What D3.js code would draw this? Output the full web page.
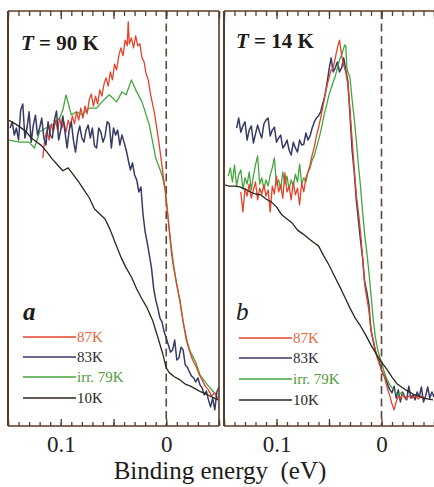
<!DOCTYPE html>
<html><head><meta charset="utf-8">
<script src="https://cdn.jsdelivr.net/npm/d3@7"></script>
<style>body{margin:0;background:#fff}svg{display:block}</style>
</head><body>
<svg id="c" width="434" height="487"></svg>
<script>
// ---------- DATA (binding energy in eV, intensity in arb. units) ----------
const energyDomain = [0.15, -0.05];
const intensityDomain = [0, 100];
const minorTicks = [0.15,0.14,0.13,0.12,0.11,0.10,0.09,0.08,0.07,0.06,0.05,0.04,0.03,0.02,0.01,0,-0.01,-0.02,-0.03,-0.04,-0.05];
const majorTicks = [0.15,0.10,0.05,0,-0.05];
const tickLabels = [{v:0.1,t:"0.1"},{v:0,t:"0"}];
const panelTitles = ["90 K","14 K"];
const panelLetters = ["a","b"];
const legendLabels = ["87K","83K","irr. 79K","10K"];

// Panel a (T = 90 K)
const a87K = [[0.117,64.6],[0.115,69.4],[0.113,71.3],[0.111,68.9],[0.109,72.8],[0.107,70.9],[0.105,73.7],[0.103,71.3],[0.101,74.2],[0.099,71.8],[0.097,73.3],[0.095,70.8],[0.093,73.7],[0.091,72.0],[0.089,74.7],[0.087,72.8],[0.085,75.7],[0.083,73.7],[0.081,76.6],[0.079,74.2],[0.077,77.1],[0.075,75.2],[0.073,78.6],[0.071,80.0],[0.069,77.1],[0.067,79.5],[0.065,77.6],[0.063,81.0],[0.061,79.5],[0.059,82.4],[0.057,83.9],[0.055,81.9],[0.053,85.3],[0.051,83.4],[0.049,87.2],[0.047,85.8],[0.045,89.2],[0.043,91.1],[0.041,89.2],[0.039,93.0],[0.037,91.6],[0.036,97.4],[0.035,92.1],[0.033,93.5],[0.031,91.1],[0.029,94.0],[0.027,91.6],[0.025,92.1],[0.023,88.7],[0.021,87.7],[0.019,84.8],[0.017,83.4],[0.015,80.0],[0.013,77.6],[0.011,75.2],[0.009,71.8],[0.007,68.4],[0.005,64.6],[0.003,60.5],[0.001,56.9],[-0.001,52.0],[-0.003,46.8],[-0.005,41.5],[-0.007,38.1],[-0.010,34.0],[-0.013,29.9],[-0.016,25.1],[-0.019,20.7],[-0.022,18.1],[-0.025,15.9],[-0.028,14.5],[-0.031,12.5],[-0.034,11.1],[-0.037,9.6],[-0.040,8.7],[-0.043,7.2],[-0.046,8.0],[-0.049,6.3]];
const a83K = [[0.148,71.8],[0.146,73.3],[0.144,70.1],[0.142,71.8],[0.140,68.9],[0.138,76.1],[0.136,77.6],[0.134,69.4],[0.132,71.8],[0.130,75.7],[0.128,68.4],[0.126,72.5],[0.124,74.9],[0.122,70.1],[0.120,71.8],[0.118,74.2],[0.116,69.4],[0.114,67.7],[0.112,73.3],[0.110,70.1],[0.108,69.4],[0.106,73.7],[0.104,75.9],[0.102,68.9],[0.100,71.3],[0.098,74.7],[0.096,70.8],[0.094,67.0],[0.092,71.3],[0.090,73.3],[0.088,68.9],[0.086,66.0],[0.084,70.1],[0.082,72.3],[0.080,69.4],[0.078,68.4],[0.076,71.3],[0.074,72.5],[0.072,69.4],[0.070,71.8],[0.068,67.5],[0.066,67.0],[0.064,71.8],[0.062,70.8],[0.060,68.4],[0.058,69.9],[0.056,73.3],[0.054,72.8],[0.052,67.0],[0.050,71.8],[0.048,70.1],[0.046,71.3],[0.044,67.7],[0.042,70.1],[0.040,68.4],[0.038,66.5],[0.036,64.1],[0.034,61.7],[0.032,63.4],[0.030,60.5],[0.028,59.3],[0.026,56.4],[0.024,57.6],[0.022,50.9],[0.020,46.8],[0.018,44.1],[0.016,41.2],[0.014,38.1],[0.012,33.3],[0.010,30.4],[0.008,28.4],[0.006,26.0],[0.004,25.1],[0.002,22.7],[0.000,21.2],[-0.002,19.5],[-0.004,17.8],[-0.006,18.3],[-0.008,20.7],[-0.010,15.9],[-0.012,16.4],[-0.014,19.0],[-0.016,18.3],[-0.018,14.7],[-0.020,14.2],[-0.022,13.0],[-0.024,12.0],[-0.026,11.6],[-0.028,10.6],[-0.030,11.6],[-0.032,9.9],[-0.034,9.2],[-0.036,7.5],[-0.038,8.4],[-0.040,6.3],[-0.042,4.6],[-0.044,6.7],[-0.046,3.9],[-0.048,8.2],[-0.050,9.4]];
const a79K = [[0.149,68.9],[0.139,68.4],[0.130,68.4],[0.125,67.0],[0.120,70.9],[0.114,71.8],[0.108,72.5],[0.101,74.2],[0.098,76.2],[0.095,79.8],[0.090,75.0],[0.085,75.7],[0.080,75.0],[0.073,76.6],[0.066,76.6],[0.061,78.1],[0.054,79.8],[0.047,78.1],[0.042,80.5],[0.038,79.8],[0.033,83.4],[0.028,80.5],[0.023,78.1],[0.016,72.5],[0.010,64.6],[0.004,60.5],[0.001,56.9],[-0.001,52.0],[-0.004,44.8],[-0.007,38.8],[-0.010,34.0],[-0.013,30.4],[-0.016,25.1],[-0.020,20.2],[-0.023,17.8],[-0.028,15.4],[-0.032,12.3],[-0.039,9.9],[-0.045,8.2],[-0.049,6.7]];
const a10K = [[0.150,73.7],[0.148,73.5],[0.143,72.8],[0.138,71.9],[0.133,71.0],[0.128,69.4],[0.123,68.5],[0.118,67.5],[0.113,66.0],[0.108,64.3],[0.103,62.9],[0.098,61.5],[0.093,62.2],[0.088,60.5],[0.083,58.8],[0.078,56.9],[0.073,55.0],[0.068,52.3],[0.063,51.1],[0.058,49.9],[0.053,47.2],[0.048,43.9],[0.043,40.7],[0.038,38.1],[0.033,35.9],[0.028,33.0],[0.023,30.6],[0.018,28.4],[0.013,25.5],[0.008,21.4],[0.003,17.1],[0.000,14.0],[-0.003,12.8],[-0.008,11.8],[-0.013,11.1],[-0.018,10.1],[-0.023,9.6],[-0.028,8.9],[-0.033,8.2],[-0.038,7.7],[-0.043,7.0],[-0.049,6.3]];

// Panel b (T = 14 K)
const b87K = [[0.134,56.4],[0.132,51.6],[0.130,57.3],[0.128,55.4],[0.126,58.3],[0.124,54.9],[0.122,56.9],[0.120,58.8],[0.118,54.5],[0.116,57.3],[0.114,55.9],[0.112,58.1],[0.110,55.4],[0.108,56.9],[0.106,51.6],[0.104,57.8],[0.102,55.9],[0.100,60.2],[0.098,56.4],[0.096,58.1],[0.094,54.9],[0.092,61.0],[0.090,56.4],[0.088,57.8],[0.086,54.5],[0.084,58.8],[0.082,55.7],[0.080,57.3],[0.078,53.3],[0.076,58.6],[0.074,56.4],[0.072,59.8],[0.070,61.2],[0.068,62.9],[0.066,65.3],[0.064,67.2],[0.062,69.9],[0.060,71.8],[0.058,74.2],[0.056,76.6],[0.054,79.5],[0.052,81.9],[0.050,83.9],[0.048,85.8],[0.046,86.3],[0.044,88.7],[0.042,91.1],[0.040,93.0],[0.038,89.4],[0.036,86.8],[0.034,85.3],[0.032,82.2],[0.030,76.2],[0.028,69.0],[0.026,62.2],[0.024,55.7],[0.022,51.6],[0.020,46.8],[0.018,40.5],[0.016,34.0],[0.014,30.8],[0.012,27.9],[0.010,23.1],[0.008,20.7],[0.006,18.3],[0.004,16.4],[0.002,14.9],[0.000,13.5],[-0.002,12.5],[-0.004,10.6],[-0.006,8.7],[-0.008,7.2],[-0.010,5.3],[-0.012,3.9],[-0.014,5.8],[-0.016,7.2],[-0.018,6.7],[-0.020,7.5],[-0.023,6.5],[-0.026,7.2],[-0.029,6.7],[-0.032,7.5],[-0.035,6.5],[-0.038,7.2],[-0.041,6.7]];
const b83K = [[0.138,71.8],[0.136,74.2],[0.134,70.8],[0.132,72.3],[0.130,73.3],[0.128,68.9],[0.126,71.3],[0.124,72.3],[0.122,68.2],[0.120,70.4],[0.118,72.5],[0.116,70.8],[0.114,69.4],[0.112,72.8],[0.110,73.7],[0.108,74.2],[0.106,69.9],[0.104,71.3],[0.102,72.0],[0.100,68.4],[0.098,69.4],[0.096,70.1],[0.094,67.0],[0.092,67.7],[0.090,68.9],[0.088,66.5],[0.086,65.3],[0.084,68.4],[0.082,67.0],[0.080,66.0],[0.078,68.9],[0.076,67.7],[0.074,67.9],[0.072,70.6],[0.070,68.9],[0.068,69.9],[0.066,71.8],[0.064,73.3],[0.062,74.2],[0.060,74.7],[0.058,75.7],[0.056,77.6],[0.054,79.5],[0.052,82.4],[0.050,85.8],[0.048,88.7],[0.046,85.3],[0.044,86.3],[0.042,87.7],[0.040,85.3],[0.038,86.3],[0.036,88.7],[0.034,85.8],[0.032,82.9],[0.030,74.9],[0.028,66.5],[0.026,61.2],[0.024,54.5],[0.022,49.6],[0.020,44.8],[0.018,40.5],[0.016,34.7],[0.014,32.3],[0.012,29.2],[0.010,23.1],[0.008,20.7],[0.006,18.3],[0.004,16.6],[0.002,15.4],[0.000,13.5],[-0.002,12.3],[-0.004,11.6],[-0.006,9.9],[-0.008,8.7],[-0.010,8.0],[-0.012,9.6],[-0.014,6.7],[-0.016,8.7],[-0.018,5.8],[-0.020,8.2],[-0.022,7.2],[-0.024,6.3],[-0.026,9.6],[-0.028,6.7],[-0.030,7.5],[-0.032,6.3],[-0.034,8.2],[-0.036,7.0],[-0.038,9.4],[-0.040,5.8],[-0.042,7.2],[-0.044,9.4],[-0.046,6.7],[-0.048,8.2],[-0.050,7.0]];
const b79K = [[0.146,60.2],[0.144,62.2],[0.142,58.8],[0.140,62.9],[0.138,57.8],[0.136,60.5],[0.134,61.7],[0.132,57.1],[0.130,59.8],[0.128,58.3],[0.126,61.2],[0.124,56.9],[0.122,60.2],[0.120,62.9],[0.118,65.1],[0.116,58.3],[0.114,59.8],[0.112,57.1],[0.110,59.3],[0.108,57.8],[0.106,60.5],[0.104,62.2],[0.102,64.6],[0.100,58.1],[0.098,59.3],[0.096,57.1],[0.094,61.2],[0.092,58.3],[0.090,60.2],[0.088,56.9],[0.086,59.3],[0.084,57.8],[0.082,60.7],[0.080,58.8],[0.078,63.1],[0.076,58.3],[0.074,59.8],[0.072,58.8],[0.070,61.2],[0.068,62.2],[0.066,64.1],[0.064,65.1],[0.062,67.0],[0.060,68.9],[0.058,70.8],[0.056,73.3],[0.054,75.7],[0.052,77.6],[0.050,79.8],[0.048,81.4],[0.046,82.9],[0.044,84.3],[0.042,86.3],[0.040,88.2],[0.038,89.4],[0.036,91.1],[0.035,91.8],[0.034,91.6],[0.033,86.3],[0.032,85.3],[0.030,83.9],[0.028,78.6],[0.026,74.2],[0.024,68.9],[0.022,62.9],[0.020,57.8],[0.018,51.6],[0.016,46.0],[0.014,41.9],[0.012,37.1],[0.010,31.6],[0.008,26.0],[0.006,21.7],[0.004,18.8],[0.002,16.9],[0.000,15.4],[-0.002,13.5],[-0.004,12.0],[-0.006,10.8],[-0.008,9.9],[-0.010,9.2],[-0.013,8.2],[-0.016,7.5],[-0.019,8.0],[-0.022,7.2]];
const b10K = [[0.150,58.1],[0.145,57.8],[0.140,57.8],[0.135,57.6],[0.130,57.1],[0.125,56.4],[0.120,55.9],[0.115,55.7],[0.110,54.7],[0.105,54.0],[0.100,52.8],[0.095,50.9],[0.090,49.9],[0.085,48.9],[0.080,47.2],[0.075,46.3],[0.070,45.3],[0.065,44.3],[0.060,43.4],[0.055,41.0],[0.050,38.8],[0.045,36.2],[0.040,33.7],[0.035,31.1],[0.030,28.4],[0.025,26.0],[0.020,24.1],[0.015,21.9],[0.010,19.5],[0.005,17.4],[0.000,15.4],[-0.005,13.7],[-0.010,11.8],[-0.015,10.1],[-0.020,9.2],[-0.025,8.4],[-0.030,7.7],[-0.035,7.2],[-0.040,6.7],[-0.045,6.5],[-0.049,6.3]];

// ---------- STYLE ----------
const FONT = "'Liberation Serif','Times New Roman',serif";
const frameColor = "#5a3a28";
const seriesColor = {"87K":"#e3432b","83K":"#383a66","irr. 79K":"#46a63c","10K":"#2e2519"};
const legendTextColor = {"87K":"#e8653e","83K":"#2e2a36","irr. 79K":"#4c9c3c","10K":"#2a2420"};

const svg = d3.select("#c");
const TOP = 11, BOT = 426;

const panels = [
  {x0:8, x1:219, rightBorder:true, series:[["irr. 79K",a79K],["87K",a87K],["83K",a83K],["10K",a10K]],
   title:{x:21,y:50}, letter:{x:23,y:320,weight:"bold"}, legend:{x0:23,x1:76,y:[337,357,377,398]}, idx:0},
  {x0:224, x1:434, rightBorder:false, series:[["83K",b83K],["irr. 79K",b79K],["87K",b87K],["10K",b10K]],
   title:{x:236,y:48}, letter:{x:236,y:320,weight:"normal"}, legend:{x0:239,x1:292,y:[338,358,379,400]}, idx:1}
];

panels.forEach(p => {
  const x = d3.scaleLinear().domain(energyDomain).range([p.x0, p.x1]);
  const y = d3.scaleLinear().domain(intensityDomain).range([BOT, TOP]);
  const g = svg.append("g");
  const cid = "clip" + p.idx;
  svg.append("clipPath").attr("id", cid).append("rect")
    .attr("x", p.x0).attr("y", TOP).attr("width", p.x1 - p.x0).attr("height", BOT - TOP);

  // dashed zero line
  g.append("line").attr("x1", x(0)).attr("x2", x(0)).attr("y1", TOP).attr("y2", BOT)
    .attr("stroke", "#5b4838").attr("stroke-width", 1.6).attr("stroke-dasharray", "8,4.5");

  // spectra
  const line = d3.line().x(d => x(d[0])).y(d => y(d[1]));
  const sg = g.append("g").attr("clip-path", `url(#${cid})`);
  p.series.forEach(([name, data]) => {
    sg.append("path").datum(data).attr("d", line).attr("fill", "none")
      .attr("stroke", seriesColor[name]).attr("stroke-width", name === "83K" ? 1.5 : 1.3)
      .attr("stroke-linejoin", "round");
  });

  // frame
  const fr = g.append("g").attr("stroke", frameColor).attr("stroke-width", 1.6);
  fr.append("line").attr("x1", p.x0).attr("x2", p.x1).attr("y1", TOP).attr("y2", TOP);
  fr.append("line").attr("x1", p.x0).attr("x2", p.x1).attr("y1", BOT).attr("y2", BOT);
  fr.append("line").attr("x1", p.x0).attr("x2", p.x0).attr("y1", TOP).attr("y2", BOT).attr("stroke-width", 2);
  if (p.rightBorder) fr.append("line").attr("x1", p.x1).attr("x2", p.x1).attr("y1", TOP).attr("y2", BOT);

  // ticks
  const styleAxis = a => { a.select(".domain").remove(); a.selectAll("line").attr("stroke", frameColor).attr("stroke-width", 1.3); };
  g.append("g").attr("transform", `translate(0,${TOP})`)
    .call(d3.axisTop(x).tickValues(minorTicks).tickSize(-5).tickFormat("")).call(styleAxis);
  g.append("g").attr("transform", `translate(0,${TOP})`)
    .call(d3.axisTop(x).tickValues(majorTicks).tickSize(-8).tickFormat("")).call(styleAxis);
  g.append("g").attr("transform", `translate(0,${BOT})`)
    .call(d3.axisBottom(x).tickValues(minorTicks).tickSize(-4).tickFormat("")).call(styleAxis);
  const lab = d => { const f = tickLabels.find(t => Math.abs(t.v - d) < 1e-9); return f ? f.t : ""; };
  const ax = g.append("g").attr("transform", `translate(0,${BOT})`)
    .call(d3.axisBottom(x).tickValues(majorTicks).tickSize(-7).tickFormat(lab)).call(styleAxis);
  ax.selectAll("text").attr("y", 26).attr("dy", null)
    .attr("font-family", FONT).attr("font-size", 23).attr("fill", "#222");

  // title T = ...
  const t = g.append("text").attr("x", p.title.x).attr("y", p.title.y)
    .attr("font-family", FONT).attr("font-size", 21).attr("font-weight", "bold").attr("fill", "#1e1a18");
  t.append("tspan").attr("font-style", "italic").text("T");
  t.append("tspan").text(" = " + panelTitles[p.idx]);

  // panel letter
  g.append("text").attr("x", p.letter.x).attr("y", p.letter.y)
    .attr("font-family", FONT).attr("font-size", 25).attr("font-style", "italic")
    .attr("font-weight", p.letter.weight).attr("fill", "#1e1a18").text(panelLetters[p.idx]);

  // legend
  legendLabels.forEach((name, i) => {
    const ly = p.legend.y[i];
    g.append("line").attr("x1", p.legend.x0).attr("x2", p.legend.x1).attr("y1", ly).attr("y2", ly)
      .attr("stroke", seriesColor[name]).attr("stroke-width", 1.5);
    g.append("text").attr("x", p.legend.x1 + 1).attr("y", ly + 5)
      .attr("font-family", FONT).attr("font-size", 15).attr("fill", legendTextColor[name]).text(name);
  });
});

// x-axis title
svg.append("text").attr("x", 220).attr("y", 479).attr("text-anchor", "middle")
  .attr("font-family", FONT).attr("font-size", 25).attr("fill", "#1e1a18")
  .attr("xml:space", "preserve").style("white-space", "pre").text("Binding energy  (eV)");
</script>
</body></html>
